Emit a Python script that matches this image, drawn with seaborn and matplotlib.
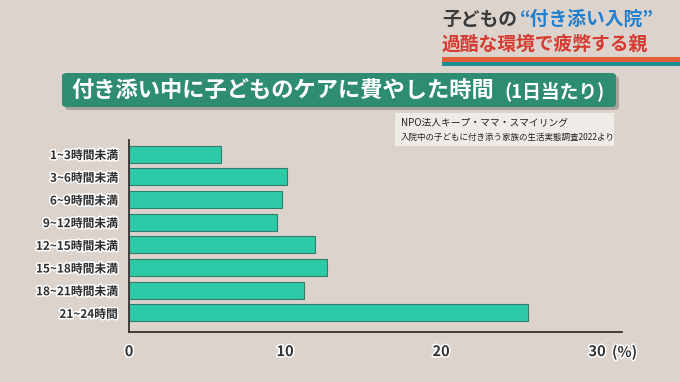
import matplotlib
matplotlib.use("Agg")
import matplotlib.pyplot as plt
import matplotlib.patheffects as pe
from matplotlib.patches import FancyBboxPatch, Rectangle
import seaborn as sns
import pandas as pd

# data (percent of families)
categories = ["1~3時間未満", "3~6時間未満", "6~9時間未満", "9~12時間未満",
              "12~15時間未満", "15~18時間未満", "18~21時間未満", "21~24時間"]
shares = [5.9, 10.1, 9.8, 9.5, 11.9, 12.7, 11.2, 25.6]
x_ticks = [0, 10, 20, 30]
x_tick_labels = ["0", "10", "20", "30"]

title = "付き添い中に子どものケアに費やした時間"
title_sub = "(1日当たり)"
source_lines = ["NPO法人キープ・ママ・スマイリング",
                "入院中の子どもに付き添う家族の生活実態調査2022より"]

bg = "#dcd3cc"
bar_color = "#2ec9a7"
jp = ["Noto Sans CJK JP", "DejaVu Sans"]

sns.set_style("white")
plt.rcParams["font.family"] = jp

df = pd.DataFrame({"category": categories, "share": shares})

fig = plt.figure(figsize=(6.8, 3.82), dpi=100, facecolor=bg)
W, H = 680, 382

def fx(px):
    return px / W

def fy(py):
    return 1 - py / H

ax = fig.add_axes([fx(129), fy(332), fx(622) - fx(129), fy(140) - fy(332)])
ax.set_facecolor(bg)
sns.barplot(data=df, x="share", y="category", orient="h", color=bar_color,
            width=0.75, edgecolor="#2f7f6c", linewidth=0.8, saturation=1, ax=ax)
ax.set_xlim(0, 31.6)
ax.set_ylim(7.84, -0.62)
ax.set_xlabel("")
ax.set_ylabel("")
for s in ["top", "right"]:
    ax.spines[s].set_visible(False)
for s in ["left", "bottom"]:
    ax.spines[s].set_color("#333333")
    ax.spines[s].set_linewidth(1.3)

outline = [pe.withStroke(linewidth=2.2, foreground="white")]
ax.set_xticks(x_ticks)
ax.set_xticklabels(x_tick_labels, fontsize=10.5, fontweight="bold", color="#333333")
ax.set_xticks([5, 15, 25], minor=True)
ax.tick_params(axis="x", which="both", direction="in", length=5, width=1.3,
               color="#333333", pad=8)
ax.tick_params(axis="y", direction="out", length=4, width=1.3, color="#333333",
               labelsize=8.5, pad=4)
for lab in ax.get_yticklabels():
    lab.set_fontweight("bold")
    lab.set_color("#2e2e2e")
    lab.set_path_effects(outline)
for lab in ax.get_xticklabels():
    lab.set_path_effects(outline)
fig.text(fx(612), fy(352), "(%)", fontsize=10.5, fontweight="bold", color="#333333",
         ha="left", va="center", path_effects=outline)

# title banner
shadow = FancyBboxPatch((fx(65), fy(110)), fx(616) - fx(62), fy(73) - fy(107),
                        boxstyle="round,pad=0,rounding_size=0.008",
                        transform=fig.transFigure, facecolor="#8a847e",
                        edgecolor="none", alpha=0.6)
box = FancyBboxPatch((fx(62), fy(107)), fx(616) - fx(62), fy(73) - fy(107),
                     boxstyle="round,pad=0,rounding_size=0.008",
                     transform=fig.transFigure, facecolor="#2e8c73",
                     edgecolor="none")
fig.add_artist(shadow)
fig.add_artist(box)
fig.text(fx(71), fy(90), title, fontsize=16, fontweight="bold", color="white",
         ha="left", va="center")
fig.text(fx(605), fy(91), title_sub, fontsize=13.5, fontweight="bold", color="white",
         ha="right", va="center")

# source note
src = Rectangle((fx(395), fy(146)), fx(614) - fx(395), fy(113) - fy(146),
                transform=fig.transFigure, facecolor="#f3f0ed", edgecolor="none",
                alpha=0.85)
fig.add_artist(src)
fig.text(fx(401), fy(122), source_lines[0], fontsize=7, color="#222222",
         ha="left", va="center")
fig.text(fx(401), fy(137), source_lines[1], fontsize=6.1, color="#222222",
         ha="left", va="center")

# top-right caption
fig.text(fx(442), fy(19), "子どもの", fontsize=13.5, fontweight="bold",
         color="#3a3a3a", ha="left", va="center")
fig.text(fx(520), fy(19), "“付き添い入院”", fontsize=13.5, fontweight="bold",
         color="#1f7fd0", ha="left", va="center")
fig.text(fx(442), fy(44), "過酷な環境で疲弊する親", fontsize=13.5, fontweight="bold",
         color="#d63a30", ha="left", va="center")
fig.add_artist(Rectangle((fx(442), fy(62)), 1 - fx(442), fy(57) - fy(62),
                         transform=fig.transFigure, facecolor="#e0603a",
                         edgecolor="none"))
fig.add_artist(Rectangle((fx(442), fy(66)), 1 - fx(442), fy(62) - fy(66),
                         transform=fig.transFigure, facecolor="#1f8f96",
                         edgecolor="none"))

fig.savefig("out.png", dpi=100, facecolor=bg)
